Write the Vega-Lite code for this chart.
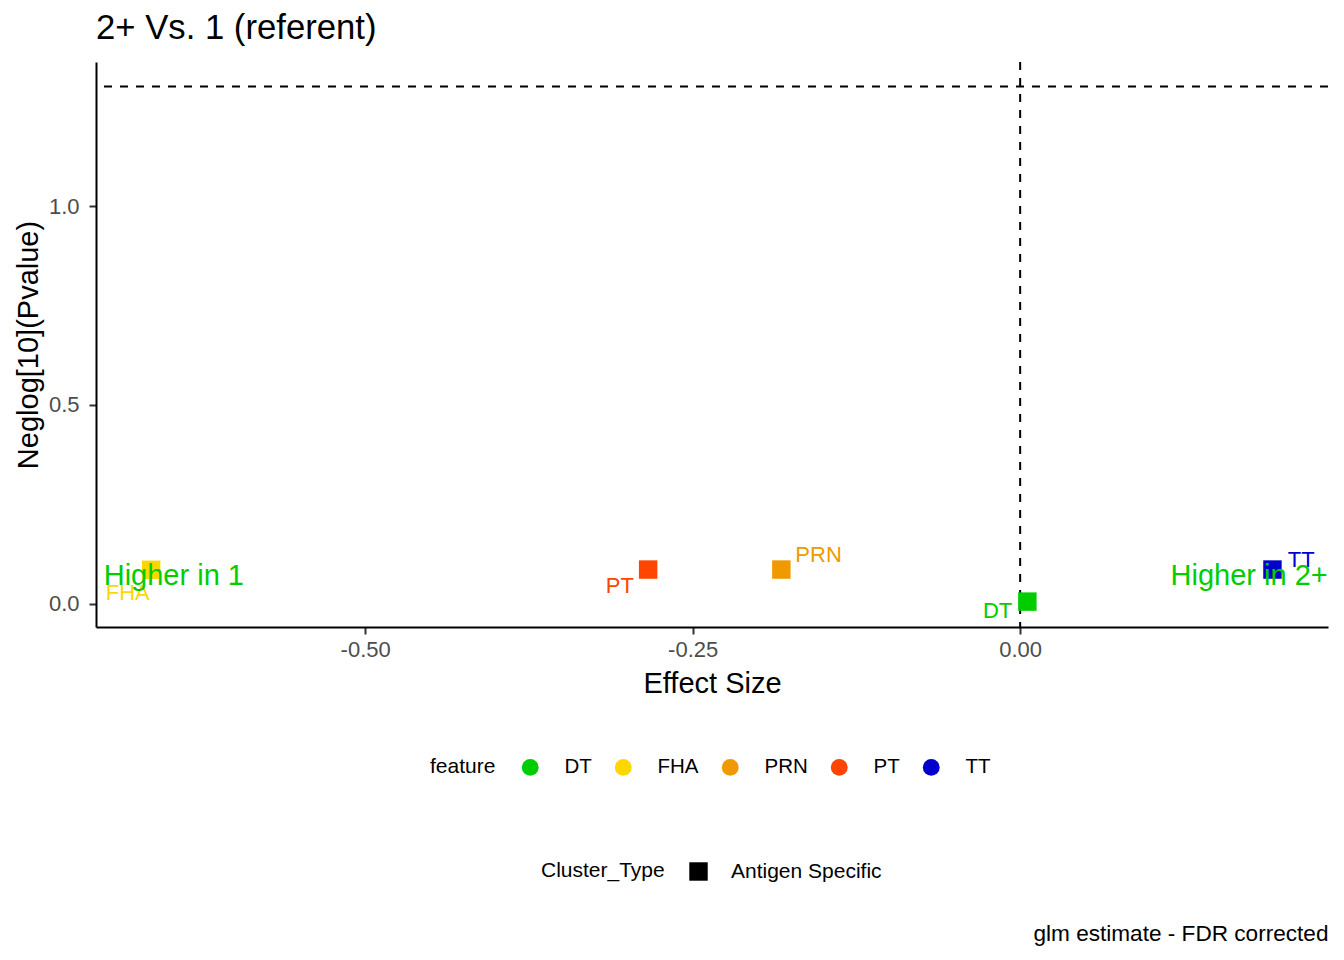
{
  "$schema": "https://vega.github.io/schema/vega-lite/v6.json",
  "description": "Volcano-style plot: effect size vs neglog10 p-value, 2+ vs 1 (referent).",
  "autosize": {"type": "none"},
  "padding": {"left": 96, "top": 62, "right": 16, "bottom": 333},
  "width": 1232,
  "height": 565,
  "background": "#ffffff",
  "title": {
    "text": "2+ Vs. 1 (referent)",
    "anchor": "start",
    "frame": "group",
    "fontSize": 34.7,
    "fontWeight": "normal",
    "color": "#000000",
    "baseline": "alphabetic",
    "offset": -13
  },
  "datasets": {
    "points": [
      {"feature": "DT", "Cluster_Type": "Antigen Specific", "estimate": 0.0055, "neglogp": 0.005, "label_x": -0.0172, "label_y": -0.0352},
      {"feature": "FHA", "Cluster_Type": "Antigen Specific", "estimate": -0.6634, "neglogp": 0.085, "label_x": -0.6813, "label_y": 0.0083},
      {"feature": "PRN", "Cluster_Type": "Antigen Specific", "estimate": -0.1823, "neglogp": 0.0856, "label_x": -0.1539, "label_y": 0.1047},
      {"feature": "PT", "Cluster_Type": "Antigen Specific", "estimate": -0.284, "neglogp": 0.0856, "label_x": -0.3056, "label_y": 0.0267},
      {"feature": "TT", "Cluster_Type": "Antigen Specific", "estimate": 0.1926, "neglogp": 0.0856, "label_x": 0.2145, "label_y": 0.0921}
    ],
    "notes": [
      {"note": "Higher in 1", "x": -0.6996, "y": 0.046, "side": "left"},
      {"note": "Higher in 2+", "x": 0.2348, "y": 0.0478, "side": "right"}
    ]
  },
  "layer": [
    {
      "layer": [
        {
          "data": {"values": [{"cut": 1.30103}]},
          "mark": {"type": "rule", "color": "#000000", "strokeWidth": 2, "strokeDash": [8, 8]},
          "encoding": {
            "y": {"field": "cut", "type": "quantitative", "scale": {"domain": [-0.0589, 1.3624], "nice": false, "zero": false}}
          }
        },
        {
          "data": {"values": [{"zero": 0}]},
          "mark": {"type": "rule", "color": "#000000", "strokeWidth": 2, "strokeDash": [8, 8]},
          "encoding": {
            "x": {"field": "zero", "type": "quantitative"}
          }
        },
        {
          "data": {"name": "points"},
          "mark": {"type": "point", "filled": true, "size": 340, "opacity": 1},
          "encoding": {
            "x": {
              "field": "estimate",
              "type": "quantitative",
              "title": "Effect Size",
              "scale": {"domain": [-0.7055, 0.235], "nice": false, "zero": false},
              "axis": {
                "values": [-0.5, -0.25, 0],
                "labelExpr": "replace(format(datum.value, '.2f'), '\u2212', '-')",
                "titlePadding": 9
              }
            },
            "y": {
              "field": "neglogp",
              "type": "quantitative",
              "title": "Neglog[10](Pvalue)",
              "axis": {
                "values": [0, 0.5, 1],
                "format": ".1f",
                "labelPadding": 10,
                "titlePadding": 5
              }
            },
            "color": {
              "field": "feature",
              "type": "nominal",
              "scale": {
                "domain": ["DT", "FHA", "PRN", "PT", "TT"],
                "range": ["#00CD00", "#FFD700", "#EE9A00", "#FF4500", "#0000CD"]
              },
              "legend": {
                "orient": "none",
                "legendX": 334,
                "legendY": 695,
                "direction": "horizontal",
                "titleOrient": "left",
                "symbolType": "circle",
                "symbolSize": 283,
                "symbolStrokeWidth": 0,
                "columnPadding": 21,
                "labelOffset": 24,
                "labelFontSize": 20.5,
                "titlePadding": 24
              }
            },
            "shape": {
              "field": "Cluster_Type",
              "type": "nominal",
              "scale": {"domain": ["Antigen Specific"], "range": ["square"]},
              "legend": {
                "orient": "none",
                "legendX": 445,
                "legendY": 799,
                "direction": "horizontal",
                "titleOrient": "left",
                "symbolSize": 340,
                "symbolFillColor": "#000000",
                "symbolStrokeWidth": 0,
                "labelOffset": 22,
                "titlePadding": 23
              }
            }
          }
        },
        {
          "data": {"name": "points"},
          "mark": {"type": "text", "fontSize": 22, "baseline": "alphabetic", "align": "center"},
          "encoding": {
            "x": {"field": "label_x", "type": "quantitative"},
            "y": {"field": "label_y", "type": "quantitative"},
            "text": {"field": "feature"},
            "color": {"field": "feature", "type": "nominal", "legend": null}
          }
        },
        {
          "data": {"name": "notes"},
          "transform": [{"filter": "datum.side == 'left'"}],
          "mark": {"type": "text", "fontSize": 29, "baseline": "alphabetic", "align": "left", "color": "#00CD00"},
          "encoding": {
            "x": {"field": "x", "type": "quantitative"},
            "y": {"field": "y", "type": "quantitative"},
            "text": {"field": "note"}
          }
        },
        {
          "data": {"name": "notes"},
          "transform": [{"filter": "datum.side == 'right'"}],
          "mark": {"type": "text", "fontSize": 29, "baseline": "alphabetic", "align": "right", "color": "#00CD00"},
          "encoding": {
            "x": {"field": "x", "type": "quantitative"},
            "y": {"field": "y", "type": "quantitative"},
            "text": {"field": "note"}
          }
        }
      ]
    },
    {
      "data": {"values": [{"zero": 0}]},
      "mark": {"type": "point", "opacity": 0},
      "encoding": {
        "x": {
          "field": "zero",
          "type": "quantitative",
          "axis": {
            "orient": "bottom",
            "title": "glm estimate - FDR corrected",
            "labels": false,
            "ticks": false,
            "domain": false,
            "grid": false,
            "titleFontSize": 22.6,
            "titleAnchor": "end",
            "titleAlign": "right",
            "titleBaseline": "alphabetic",
            "titleX": 1232,
            "titleY": 313
          }
        }
      }
    }
  ],
  "resolve": {"axis": {"x": "independent"}},
  "config": {
    "font": "Liberation Sans",
    "view": {"stroke": null},
    "axis": {
      "grid": false,
      "domainColor": "#000000",
      "domainWidth": 2,
      "tickColor": "#333333",
      "tickWidth": 2,
      "tickSize": 7,
      "labelColor": "#4D4D4D",
      "labelFontSize": 22,
      "labelPadding": 5,
      "titleColor": "#000000",
      "titleFontSize": 29,
      "titleFontWeight": "normal"
    },
    "legend": {
      "titleFontSize": 21,
      "titleFontWeight": "normal",
      "titleColor": "#000000",
      "labelFontSize": 21,
      "labelColor": "#000000"
    }
  }
}
